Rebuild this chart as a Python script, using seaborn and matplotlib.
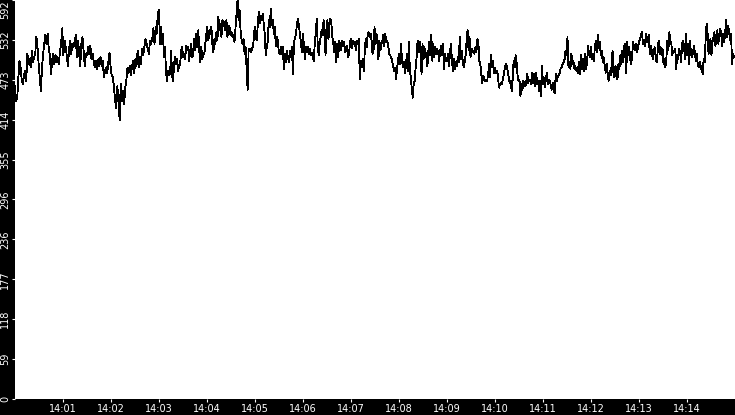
import numpy as np
import pandas as pd
import matplotlib
matplotlib.use("Agg")
import matplotlib.pyplot as plt
import matplotlib.dates as mdates
import seaborn as sns

# values, one list per 3-minute block
seg_1400 = [464, 442, 447, 477, 502, 492, 472, 467, 480, 487, 472, 512, 497, 504, 492, 517, 500, 507, 512, 537,
            522, 497, 477, 457, 492, 512, 527, 540, 527, 542, 520, 510, 482, 502, 512, 497, 510, 500, 507, 497,
            517, 527, 550, 510, 532, 522, 510, 494, 517, 532, 512, 527, 522, 530, 540, 507, 532, 514, 494, 527,
            537, 517, 494, 512, 510, 522, 512, 524, 504, 512, 500, 492, 502, 490, 504, 494, 507, 494, 502, 477,
            487, 492, 484, 500, 514, 492, 480, 477, 462, 442, 432, 464, 442, 414, 467, 442, 457, 437, 462, 474,
            492, 484, 494, 480, 494, 502, 484, 504, 494, 517, 492, 507, 497, 520, 510, 522, 534, 527, 520, 512,
            532, 527, 534, 550, 527, 552, 542, 574]
seg_1403 = [577, 527, 552, 527, 542, 507, 522, 484, 472, 487, 480, 482, 517, 480, 472, 497, 507, 497, 504, 487,
            494, 497, 517, 522, 507, 512, 504, 524, 520, 522, 502, 517, 527, 507, 512, 534, 517, 542, 522, 547,
            517, 500, 522, 504, 514, 512, 527, 542, 552, 532, 547, 542, 552, 527, 514, 534, 527, 544, 532, 567,
            547, 557, 537, 562, 554, 559, 547, 562, 537, 554, 552, 540, 544, 537, 540, 530, 552, 572, 592, 562,
            577, 547, 532, 527, 534, 512, 522, 492, 459, 517, 520, 514, 517, 522, 532, 552, 537, 532, 552, 574,
            557, 569, 562, 572, 557, 542, 510, 522, 530, 562, 552, 579, 554, 562, 542, 552, 524, 537, 532, 514,
            512, 522, 512, 522, 490, 512, 500, 517, 507, 500, 517, 507, 522, 482, 527, 537, 540, 557, 564, 552,
            542, 527, 514]
seg_1406 = [542, 524, 504, 522, 514, 522, 512, 520, 510, 514, 507, 502, 527, 542, 564, 527, 510, 527, 537, 547,
            540, 562, 547, 510, 552, 562, 534, 554, 564, 557, 537, 527, 514, 530, 500, 527, 507, 532, 522, 517,
            532, 524, 530, 514, 517, 524, 507, 512, 530, 534, 520, 532, 527, 530, 517, 532, 527, 534, 474, 502,
            492, 504, 487, 514, 534, 522, 540, 544, 537, 542, 532, 512, 517, 552, 527, 542, 527, 504, 532, 517,
            527, 532, 540, 524, 542, 530, 532, 524, 512, 510, 507, 502, 494, 487, 492, 474, 490, 502, 512, 497,
            527, 504, 492, 500, 484, 492, 512, 487, 530, 492, 477, 462, 447, 467, 472, 492, 507, 532, 514, 530,
            514, 482, 527, 504, 522, 507, 514, 494, 517, 530, 510, 540, 502, 527, 507, 522, 512, 520, 514, 502,
            517, 524, 510, 527, 490, 512, 502]
seg_1409 = [502, 512, 494, 512, 527, 504, 487, 504, 490, 500, 494, 507, 500, 537, 504, 517, 502, 492, 500, 510,
            532, 547, 517, 537, 507, 520, 514, 517, 512, 522, 514, 534, 530, 502, 497, 482, 469, 480, 474, 472,
            474, 472, 482, 497, 477, 510, 492, 502, 484, 492, 484, 487, 480, 462, 467, 469, 467, 474, 482, 490,
            497, 494, 487, 477, 469, 472, 457, 474, 502, 492, 510, 500, 480, 472, 474, 449, 467, 459, 472, 469,
            464, 472, 482, 469, 474, 472, 467, 484, 469, 482, 464, 484, 467, 472, 457, 472, 449, 494, 467, 477,
            462, 477, 484, 467, 474, 472, 464, 459, 469, 457, 454, 482, 472, 477, 480, 484, 490, 492, 497, 500,
            504, 517, 510, 537, 492, 500, 490, 512, 497, 502, 490, 494, 487, 492, 484, 500, 482, 510, 490, 504,
            487, 512, 490, 500, 524, 512, 507]
seg_1412 = [522, 504, 512, 502, 524, 532, 514, 540, 520, 530, 510, 517, 500, 507, 494, 484, 497, 480, 472, 487,
            480, 494, 517, 480, 477, 494, 484, 474, 497, 490, 510, 497, 517, 500, 524, 527, 484, 530, 510, 522,
            504, 497, 510, 530, 520, 517, 527, 514, 522, 530, 534, 540, 544, 527, 532, 524, 542, 530, 534, 540,
            512, 524, 517, 504, 512, 522, 507, 500, 514, 532, 512, 522, 510, 520, 497, 504, 492, 507, 532, 517,
            544, 532, 527, 510, 517, 514, 520, 490, 510, 504, 520, 514, 500, 527, 532, 522, 504, 542, 510, 527,
            497, 532, 514, 507, 512, 524, 514, 502, 512, 497, 492, 500, 490, 494, 482, 504, 500, 532, 557, 542,
            512, 522, 534, 510, 530, 537, 544, 524, 534, 547, 527, 542, 549, 540, 524, 542, 530, 544, 562, 537,
            554, 544, 532, 542, 497, 512, 507]
segments = [seg_1400, seg_1403, seg_1406, seg_1409, seg_1412]
block_starts = ["14:00:00", "14:03:00", "14:06:00", "14:09:00", "14:12:00"]
block_secs = 180

frames = []
for start, vals in zip(block_starts, segments):
    t0 = pd.Timestamp("2024-01-01 " + start)
    offs = np.linspace(0, block_secs, len(vals), endpoint=False)
    times = t0 + pd.to_timedelta(offs, unit="s")
    frames.append(pd.DataFrame({"time": times, "value": vals}))
df = pd.concat(frames, ignore_index=True)

sns.set_style("white")
plt.rcParams["font.family"] = ["DejaVu Sans"]

fig = plt.figure(figsize=(7.35, 4.15), dpi=100, facecolor="black")
ax = fig.add_axes([15 / 735, 16 / 415, 720 / 735, 399 / 415])
ax.set_facecolor("white")

sns.lineplot(data=df, x="time", y="value", color="black", linewidth=0.6,
             estimator=None, antialiased=False, ax=ax)

ymax = df["value"].max()
ax.set_ylim(0, ymax)
yt = np.linspace(0, ymax, 11)
ax.set_yticks(yt)
ax.set_yticklabels([str(int(v)) for v in yt], rotation=90, va="center")
ax.get_yticklabels()[-1].set_va("top")

ax.set_xlim(pd.Timestamp("2024-01-01 14:00:00"), pd.Timestamp("2024-01-01 14:15:00"))
ax.xaxis.set_major_locator(mdates.MinuteLocator(byminute=range(1, 15)))
ax.xaxis.set_major_formatter(mdates.DateFormatter("%H:%M"))

ax.tick_params(axis="both", colors="white", labelsize=7, length=2.5, width=0.8,
               direction="out", pad=0.8, bottom=True, left=True)
for s in ax.spines.values():
    s.set_visible(False)
ax.set_xlabel("")
ax.set_ylabel("")

fig.savefig("out.png", dpi=100, facecolor="black")
